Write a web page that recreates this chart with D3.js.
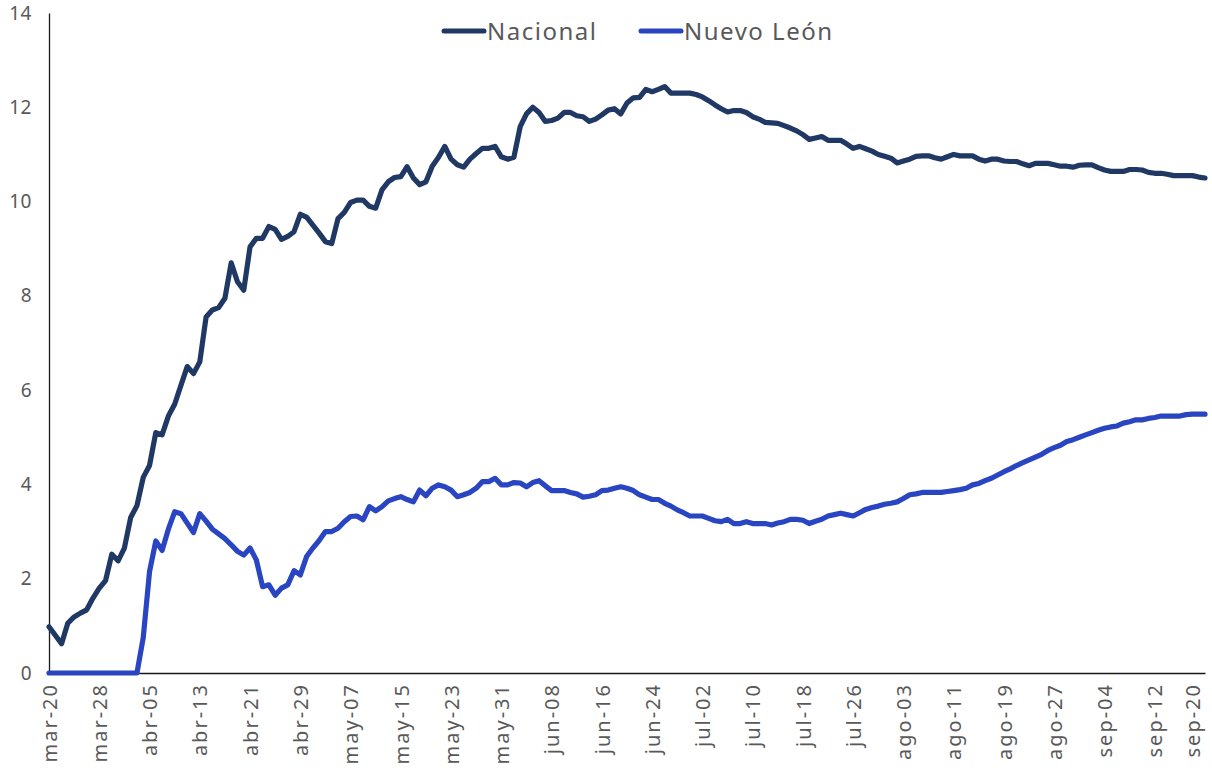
<!DOCTYPE html>
<html>
<head>
<meta charset="utf-8">
<script src="https://cdn.jsdelivr.net/npm/d3@7/dist/d3.min.js"></script>
<style>
  html, body { margin: 0; padding: 0; background: #ffffff; }
  svg { display: block; font-family: "Noto Sans", "Open Sans", sans-serif; }
</style>
</head>
<body>
<svg id="chart" width="1212" height="770"></svg>
<script>
// ---- DATA ----
const startDate = "2020-03-20";
const nDays = 185;
const monthNames = ["ene","feb","mar","abr","may","jun","jul","ago","sep","oct","nov","dic"];

const tickLabels = ["mar-20","mar-28","abr-05","abr-13","abr-21","abr-29","may-07","may-15","may-23","may-31",
  "jun-08","jun-16","jun-24","jul-02","jul-10","jul-18","jul-26","ago-03","ago-11","ago-19","ago-27",
  "sep-04","sep-12","sep-20"];

const yTicks = [0, 2, 4, 6, 8, 10, 12, 14];

const seriesNames = ["Nacional", "Nuevo León"];

const nacional = [
  0.98, 0.80, 0.62, 1.06, 1.19, 1.27, 1.34, 1.59, 1.80, 1.96,
  2.52, 2.38, 2.65, 3.30, 3.55, 4.15, 4.40, 5.10, 5.05, 5.45,
  5.70, 6.10, 6.50, 6.35, 6.60, 7.55, 7.70, 7.75, 7.95, 8.70,
  8.30, 8.12, 9.04, 9.22, 9.22, 9.47, 9.41, 9.20, 9.26, 9.36,
  9.73, 9.67, 9.50, 9.33, 9.15, 9.11, 9.64, 9.77, 9.98, 10.03,
  10.03, 9.90, 9.86, 10.25, 10.42, 10.51, 10.53, 10.74, 10.50, 10.36,
  10.42, 10.75, 10.94, 11.17, 10.90, 10.78, 10.73, 10.90, 11.02, 11.13,
  11.13, 11.17, 10.95, 10.90, 10.94, 11.59, 11.86, 12.00, 11.89, 11.70,
  11.72, 11.77, 11.89, 11.89, 11.82, 11.80, 11.70, 11.75, 11.84, 11.94,
  11.97, 11.86, 12.09, 12.20, 12.21, 12.38, 12.33, 12.38, 12.44, 12.30,
  12.30, 12.30, 12.30, 12.27, 12.22, 12.14, 12.05, 11.97, 11.90, 11.93,
  11.93, 11.89, 11.80, 11.75, 11.68, 11.67, 11.66, 11.61, 11.56, 11.50,
  11.42, 11.32, 11.35, 11.38, 11.30, 11.30, 11.30, 11.22, 11.13, 11.17,
  11.12, 11.07, 11.00, 10.96, 10.92, 10.82, 10.86, 10.90, 10.96, 10.97,
  10.97, 10.93, 10.90, 10.95, 11.00, 10.97, 10.97, 10.97, 10.90, 10.86,
  10.90, 10.90, 10.86, 10.85, 10.85, 10.80, 10.76, 10.81, 10.81, 10.81,
  10.78, 10.75, 10.75, 10.73, 10.77, 10.78, 10.78, 10.72, 10.67, 10.64,
  10.64, 10.64, 10.68, 10.68, 10.67, 10.62, 10.60, 10.60, 10.58, 10.55,
  10.55, 10.55, 10.55, 10.52, 10.50
];

const nuevoLeon = [
  0, 0, 0, 0, 0, 0, 0, 0, 0, 0,
  0, 0, 0, 0, 0, 0.75, 2.15, 2.80, 2.60, 3.05,
  3.42, 3.38, 3.18, 2.98, 3.38, 3.22, 3.05, 2.95, 2.85, 2.72,
  2.58, 2.50, 2.65, 2.40, 1.83, 1.87, 1.65, 1.80, 1.87, 2.17,
  2.08, 2.47, 2.65, 2.81, 3.00, 3.00, 3.07, 3.21, 3.32, 3.33,
  3.25, 3.53, 3.44, 3.53, 3.65, 3.70, 3.74, 3.68, 3.63, 3.88,
  3.76, 3.92, 3.99, 3.95, 3.88, 3.74, 3.78, 3.83, 3.92, 4.06,
  4.06, 4.13, 3.99, 3.99, 4.04, 4.03, 3.95, 4.04, 4.08, 3.97,
  3.87, 3.87, 3.87, 3.83, 3.80, 3.73, 3.75, 3.78, 3.87, 3.88,
  3.92, 3.95, 3.92, 3.87, 3.78, 3.73, 3.68, 3.68, 3.60, 3.54,
  3.46, 3.40, 3.33, 3.33, 3.33, 3.28, 3.23, 3.21, 3.26, 3.17,
  3.17, 3.21, 3.17, 3.17, 3.17, 3.14, 3.18, 3.21, 3.26, 3.26,
  3.24, 3.17, 3.22, 3.26, 3.33, 3.36, 3.39, 3.36, 3.33, 3.40,
  3.47, 3.51, 3.54, 3.58, 3.60, 3.63, 3.70, 3.78, 3.80, 3.83,
  3.83, 3.83, 3.83, 3.85, 3.87, 3.89, 3.92, 3.99, 4.02, 4.08,
  4.13, 4.20, 4.27, 4.33, 4.40, 4.46, 4.52, 4.58, 4.64, 4.72,
  4.78, 4.83, 4.91, 4.95, 5.00, 5.05, 5.10, 5.15, 5.19, 5.22,
  5.24, 5.30, 5.33, 5.37, 5.37, 5.40, 5.42, 5.45, 5.45, 5.45,
  5.45, 5.48, 5.49, 5.49, 5.49
];

// ---- CATEGORIES (daily dates) ----
const t0 = new Date(startDate + "T00:00:00");
const dates = d3.range(nDays).map(i => {
  const d = new Date(t0.getTime());
  d.setDate(d.getDate() + i);
  return monthNames[d.getMonth()] + "-" + String(d.getDate()).padStart(2, "0");
});

const colors = { "Nacional": "#203864", "Nuevo León": "#2a45c2" };
const seriesData = [
  { name: seriesNames[0], values: nacional },
  { name: seriesNames[1], values: nuevoLeon }
];

// ---- LAYOUT ----
const W = 1212;
const svg = d3.select("#chart");
const mLeft = 49, mRight = 1205, mTop = 13, mBottom = 673;

const x = d3.scalePoint().domain(dates).range([mLeft, mRight]);
const y = d3.scaleLinear().domain([0, 14]).range([mBottom, mTop]);

const textColor = "#595959";

// Y axis
const yAxis = svg.append("g")
  .attr("transform", `translate(${mLeft},0)`)
  .call(d3.axisLeft(y).tickValues(yTicks).tickSize(0).tickPadding(17).tickFormat(d3.format("d")));
yAxis.select(".domain").attr("stroke", "#1a1a1a").attr("stroke-width", 1.3);
yAxis.selectAll("text")
  .attr("fill", textColor)
  .style("font-size", "19px")
  .style("letter-spacing", "0.5px")
  .style("font-family", "'Noto Sans', sans-serif");

// X axis
const xAxis = svg.append("g")
  .attr("transform", `translate(0,${mBottom})`)
  .call(d3.axisBottom(x).tickValues(tickLabels).tickSize(0).tickPadding(0));
xAxis.select(".domain").attr("stroke", "#1a1a1a").attr("stroke-width", 1.3);
xAxis.selectAll("text")
  .attr("fill", textColor)
  .style("font-size", "20px")
  .style("letter-spacing", "2px")
  .style("font-family", "'Noto Sans', sans-serif")
  .attr("text-anchor", "end")
  .attr("transform", "rotate(-90)")
  .attr("x", -10)
  .attr("y", 0)
  .attr("dy", "0.36em");

// keep rotated labels inside the picture (as the original does with the last one)
xAxis.selectAll(".tick").each(function() {
  const g = d3.select(this);
  const tx = +g.attr("transform").match(/translate\(([^,]+)/)[1];
  const bb = this.querySelector("text").getBBox(); // rotated: bb.height ~ horizontal extent
  const half = bb.height / 2;
  const over = tx + half + 6 - W;
  if (over > 0) g.select("text").attr("y", -over);
});

// Lines
const line = d3.line()
  .x((d, i) => x(dates[i]))
  .y(d => y(d))
  .curve(d3.curveLinear);

svg.append("g").selectAll("path")
  .data(seriesData)
  .join("path")
  .attr("d", s => line(s.values))
  .attr("fill", "none")
  .attr("stroke", s => colors[s.name])
  .attr("stroke-width", 5.2)
  .attr("stroke-linejoin", "round")
  .attr("stroke-linecap", "round");

// Legend
const legendItems = [
  { name: seriesNames[0], x0: 444 },
  { name: seriesNames[1], x0: 641 }
];
const lg = svg.append("g");
legendItems.forEach(it => {
  lg.append("line")
    .attr("x1", it.x0).attr("x2", it.x0 + 40)
    .attr("y1", 31).attr("y2", 31)
    .attr("stroke", colors[it.name])
    .attr("stroke-width", 5)
    .attr("stroke-linecap", "round");
  lg.append("text")
    .attr("x", it.x0 + 43).attr("y", 31)
    .attr("dy", "0.36em")
    .attr("fill", textColor)
    .style("font-size", "24px")
    .style("letter-spacing", "1.5px")
    .text(it.name);
});
</script>
</body>
</html>
